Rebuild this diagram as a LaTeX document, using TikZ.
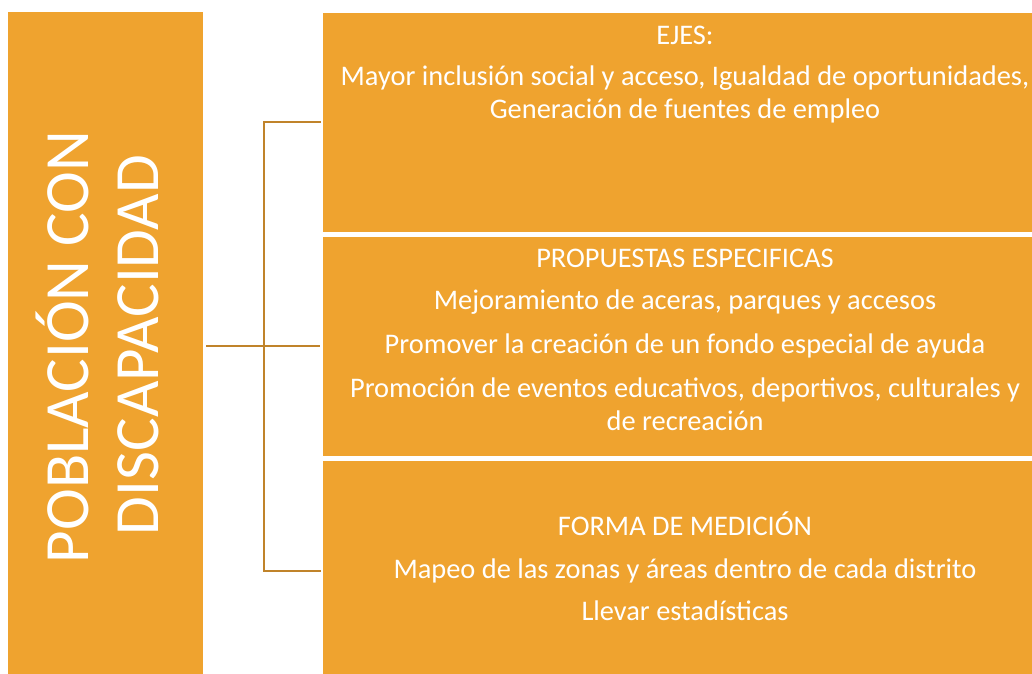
\documentclass[tikz,border=0pt]{standalone}
\usepackage{fontspec}
\setmainfont{Carlito}
\definecolor{boxor}{HTML}{EFA32F}
\definecolor{linecol}{HTML}{C0832A}
\begin{document}
\begin{tikzpicture}[x=1pt,y=-1pt,
  box/.style={fill=boxor,draw=none,inner sep=0pt,minimum width=0pt},
  txt/.style={text=white,font=\fontsize{28.4}{34}\selectfont,anchor=base,inner sep=0pt},
  bigtxt/.style={text=white,font=\fontsize{63}{72}\selectfont,anchor=base,inner sep=0pt,rotate=90},
  conn/.style={draw=linecol,line width=2pt}]
\clip (0,0) rectangle (1032,673);
\useasboundingbox (0,0) rectangle (1032,673);
% boxes
\path[box] (7.5,12) rectangle (203,690);
\node[box,minimum width=195.5pt,minimum height=678pt,anchor=north west,fill=none] (L) at (7.5,12) {};
\path[box] (323,13) rectangle (1047,231.5);
\node[inner sep=0pt,minimum width=724pt,minimum height=218.5pt,anchor=north west] (B1) at (323,13) {};
\path[box] (323,236.5) rectangle (1047,456);
\node[inner sep=0pt,minimum width=724pt,minimum height=219.5pt,anchor=north west] (B2) at (323,236.5) {};
\path[box] (323,461) rectangle (1047,690);
\node[inner sep=0pt,minimum width=724pt,minimum height=229pt,anchor=north west] (B3) at (323,461) {};
% left texts
\node[bigtxt] (t1) at (88,347) {POBLACIÓN CON};
\node[bigtxt] (t2) at (158,345) {DISCAPACIDAD};
% right texts
\node[txt] (e1) at (685,44) {EJES:};
\node[txt] (e2) at (685,85) {Mayor inclusión social y acceso, Igualdad de oportunidades,};
\node[txt] (e3) at (685,118) {Generación de fuentes de empleo};
\node[txt] (p1) at (685,267) {PROPUESTAS ESPECIFICAS};
\node[txt] (p2) at (685,309.5) {Mejoramiento de aceras, parques y accesos};
\node[txt] (p3) at (685,353) {Promover la creación de un fondo especial de ayuda};
\node[txt] (p4) at (685,397) {Promoción de eventos educativos, deportivos, culturales y};
\node[txt] (p5) at (685,430) {de recreación};
\node[txt] (f1) at (685,535) {FORMA DE MEDICIÓN};
\node[txt] (f2) at (685,578) {Mapeo de las zonas y áreas dentro de cada distrito};
\node[txt] (f3) at (685,620) {Llevar estadísticas};
% connectors
\coordinate (top) at (263.5,121.5);
\coordinate (bot) at (263.5,571);
\coordinate (mid) at (263.5,346);
\draw[conn] (top) -- (bot);
\draw[conn,shorten <=3pt,shorten >=3pt] (L.east |- mid) -- (B2.west |- mid);
\draw[conn,line cap=rect] (top) -- ([xshift=-3pt]B1.west |- top);
\draw[conn,line cap=rect] (bot) -- ([xshift=-3pt]B3.west |- bot);
\end{tikzpicture}
\end{document}
